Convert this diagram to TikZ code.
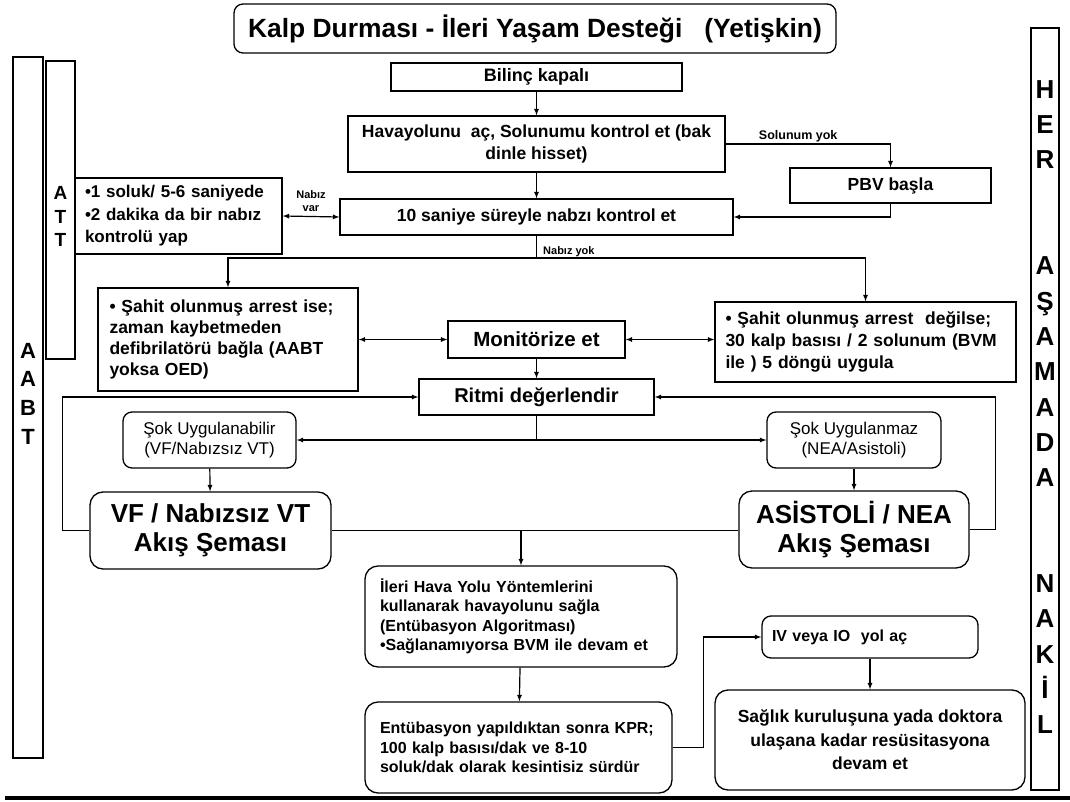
\documentclass[tikz,border=0pt]{standalone}
\usepackage{fontspec}
\setmainfont{Liberation Sans}
\usetikzlibrary{shapes,arrows}
\newcommand{\fsz}[2]{\fontsize{#1}{#2}\selectfont}

\tikzset{
  box/.style={draw, line width=1.3pt, inner sep=0pt, align=center, font=\bfseries},
  rbox/.style={box, rounded corners=9pt},
  colbox/.style={draw, line width=1.3pt, inner sep=0pt},
  letter/.style={inner sep=0pt, anchor=base},
  lbl/.style={font=\fsz{11}{13}\bfseries, align=center, inner sep=1pt},
  conn/.style={line width=1.2pt, >=latex}
}

\begin{document}
\begin{tikzpicture}[x=1pt,y=-1pt]
\useasboundingbox (0,0) rectangle (1070,802);

% Başlık
\node[rbox, minimum width=602pt, minimum height=49pt, font=\fsz{26.4}{30}\bfseries] (title) at (535,28.5) {Kalp Durması - İleri Yaşam Desteği\ \ \ (Yetişkin)};

% Yan sütunlar
\node[colbox, minimum width=30pt, minimum height=701pt] (aabt) at (28,407.5) {};
\foreach \ch [count=\i from 0] in {A,A,B,T}
  \node[letter, font=\fsz{22}{26}\bfseries] (aabt\i) at (28,358+28.7*\i) {\ch};
\node[colbox, minimum width=29pt, minimum height=298pt] (att) at (60.5,210) {};
\foreach \ch [count=\i from 0] in {A,T,T}
  \node[letter, font=\fsz{19}{22}\bfseries] (att\i) at (60.5,200+23.3*\i) {\ch};
\node[colbox, minimum width=28pt, minimum height=762pt] (nakil) at (1045,409) {};
\foreach \i/\ch in {0/H,1/E,2/R,5/A,6/Ş,7/A,8/M,9/A,10/D,11/A,14/N,15/A,16/K,17/İ,18/L}
  \node[letter, font=\fsz{26}{30}\bfseries] (nakil\i) at (1045,98.4+35.3*\i) {\ch};

% Temel adımlar
\node[box, minimum width=291pt, minimum height=28pt, font=\fsz{18}{21}\bfseries] (bilinc) at (536.5,77) {Bilinç kapalı};
\node[box, minimum width=377pt, minimum height=56pt, font=\fsz{17.5}{22}\bfseries] (hava) at (536.5,144) {Havayolunu\ \ aç, Solunumu kontrol et (bak\\dinle hisset)};
\node[box, minimum width=201pt, minimum height=35pt, font=\fsz{17.5}{21}\bfseries] (pbv) at (890.5,185.5) {PBV başla};
\node[box, minimum width=393pt, minimum height=36pt, font=\fsz{17.5}{21}\bfseries] (nabiz) at (536.5,217) {10 saniye süreyle nabzı kontrol et};
\node[box, align=left, text width=187pt, inner xsep=10pt, minimum height=76pt, font=\fsz{17}{22.5}\bfseries] (solukbox) at (178.5,216) {•1 soluk/ 5-6 saniyede\\•2 dakika da bir nabız\\kontrolü yap};

% Monitörizasyon
\node[box, align=left, text width=237pt, inner xsep=11.5pt, minimum height=103pt, font=\fsz{17.5}{21.3}\bfseries] (sahitvar) at (228,339.5) {• Şahit olunmuş arrest ise;\\zaman kaybetmeden\\defibrilatörü bağla (AABT\\yoksa OED)};
\node[box, minimum width=177pt, minimum height=37pt, font=\fsz{20.5}{24}\bfseries] (monitor) at (536.5,339.5) {Monitörize et};
\node[box, align=left, text width=280pt, inner xsep=10.5pt, minimum height=80pt, font=\fsz{17.5}{22.4}\bfseries] (sahityok) at (865.5,342) {• Şahit olunmuş arrest\ \ değilse;\\30 kalp basısı / 2 solunum (BVM\\ile ) 5 döngü uygula};
\node[box, minimum width=235pt, minimum height=36pt, font=\fsz{20}{24}\bfseries] (ritim) at (536.5,397) {Ritmi değerlendir};

% Ritim dalları
\node[rbox, minimum width=173pt, minimum height=56pt, font=\fsz{17}{20}] (sokvar) at (209.5,440) {Şok Uygulanabilir\\(VF/Nabızsız VT)};
\node[rbox, minimum width=174pt, minimum height=56pt, font=\fsz{17}{20}] (sokyok) at (854,440) {Şok Uygulanmaz\\(NEA/Asistoli)};
\node[rbox, rounded corners=13pt, minimum width=241pt, minimum height=77pt, font=\fsz{26}{29}\bfseries] (vf) at (210.5,530.5) {VF / Nabızsız VT\\Akış Şeması};
\node[rbox, rounded corners=13pt, minimum width=230pt, minimum height=77pt, font=\fsz{26}{29}\bfseries] (asis) at (854,529.5) {ASİSTOLİ / NEA\\Akış Şeması};

% İleri adımlar
\node[rbox, rounded corners=13pt, align=left, text width=282pt, inner xsep=15pt, minimum height=101pt, font=\fsz{16}{19.5}\bfseries] (ileri) at (521,616.5) {İleri Hava Yolu Yöntemlerini\\kullanarak havayolunu sağla\\(Entübasyon Algoritması)\\•Sağlanamıyorsa BVM ile devam et};
\node[rbox, rounded corners=13pt, align=left, text width=277pt, inner xsep=15pt, minimum height=91pt, font=\fsz{16}{19.5}\bfseries] (entub) at (518.5,747.5) {Entübasyon yapıldıktan sonra KPR;\\100 kalp basısı/dak ve 8-10\\soluk/dak olarak kesintisiz sürdür};
\node[rbox, align=left, text width=196pt, inner xsep=10pt, minimum height=42pt, font=\fsz{16}{19}\bfseries] (iv) at (870,637) {IV veya IO\ \ yol aç};
\node[rbox, rounded corners=13pt, minimum width=310pt, minimum height=100pt, font=\fsz{17.5}{23.5}\bfseries] (saglik) at (870,740) {Sağlık kuruluşuna yada doktora\\ulaşana kadar resüsitasyona\\devam et};

% Bağlantılar
\coordinate (nsplit) at (536.5,258);
\coordinate (rsplit) at (536.5,440);
\draw[conn,->] (bilinc) -- (hava);
\draw[conn,->] (hava) -- (nabiz);
\draw[conn,->] (hava.east) -| node[lbl, pos=0.22, above, font=\fsz{12.5}{14}\bfseries] (solyok) {Solunum yok} (pbv.north);
\draw[conn,->] (pbv.south) |- (nabiz.east);
\draw[conn,<->] (nabiz.west) -- node[lbl, above=3pt] (nabvar) {Nabız\\var} (solukbox.east);
\draw[conn] (nabiz.south) -- (nsplit);
\node[lbl, anchor=west] (nabyok) at (542,252) {Nabız yok};
\draw[conn,->] (nsplit) -| (sahitvar.north);
\draw[conn,->] (nsplit) -| (sahityok.north);
\draw[conn,<->] (sahitvar.east) -- (monitor.west);
\draw[conn,<->] (monitor.east) -- (monitor.east -| sahityok.west);
\draw[conn,->] (monitor) -- (ritim);
\draw[conn] (ritim.south) -- (rsplit);
\draw[conn,->] (rsplit) -- (sokvar.east);
\draw[conn,->] (rsplit) -- (sokyok.west);
\draw[conn,->] (sokvar) -- (vf);
\draw[conn,->] (sokyok) -- (asis);
\draw[conn,->] (vf.west) -- ++(-27,0) |- (ritim.west);
\draw[conn,->] (asis.east) -- ++(26,0) |- (ritim.east);
\draw[conn] (vf.east) -- (vf.east -| asis.west);
\draw[conn,->] (vf.east -| ileri.north) -- (ileri.north);
\draw[conn,->] (ileri) -- (entub);
\draw[conn,->] (entub.east) -- ++(31,0) |- (iv.west);
\draw[conn,->] (iv) -- (saglik);

% Alt çizgi
\draw[line width=4pt] (5,798) -- (1070,798);
\end{tikzpicture}
\end{document}
